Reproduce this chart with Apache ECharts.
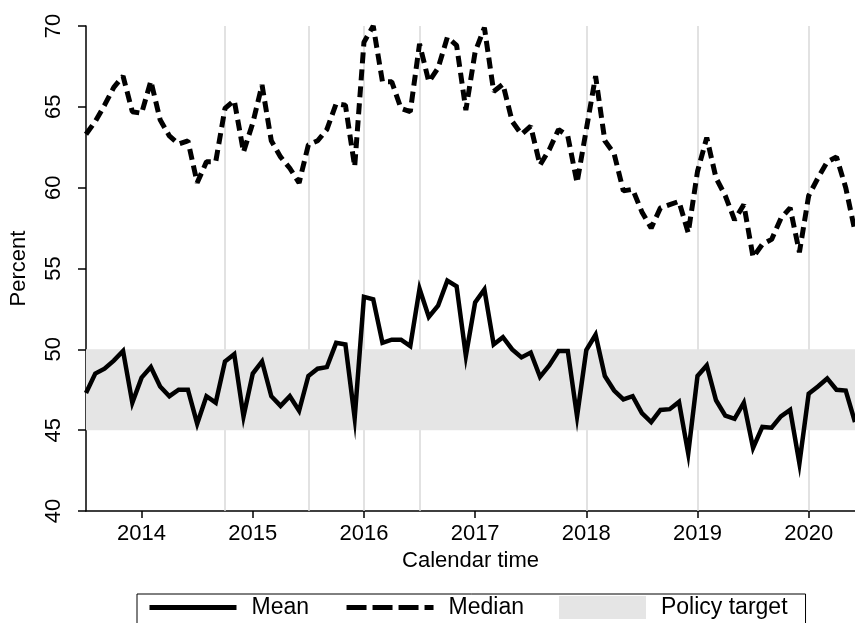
<!DOCTYPE html>
<html>
<head>
<meta charset="utf-8">
<script src="https://cdn.jsdelivr.net/npm/echarts@6/dist/echarts.min.js"></script>
<style>
html, body { margin: 0; padding: 0; background: #fff; }
#main { width: 855px; height: 623px; }
</style>
</head>
<body>
<div id="main"></div>
<script>
// monthly, 2013m7 .. 2020m6
var months = [
	'2013m7','2013m8','2013m9','2013m10','2013m11','2013m12',
	'2014m1','2014m2','2014m3','2014m4','2014m5','2014m6','2014m7','2014m8','2014m9','2014m10','2014m11','2014m12',
	'2015m1','2015m2','2015m3','2015m4','2015m5','2015m6','2015m7','2015m8','2015m9','2015m10','2015m11','2015m12',
	'2016m1','2016m2','2016m3','2016m4','2016m5','2016m6','2016m7','2016m8','2016m9','2016m10','2016m11','2016m12',
	'2017m1','2017m2','2017m3','2017m4','2017m5','2017m6','2017m7','2017m8','2017m9','2017m10','2017m11','2017m12',
	'2018m1','2018m2','2018m3','2018m4','2018m5','2018m6','2018m7','2018m8','2018m9','2018m10','2018m11','2018m12',
	'2019m1','2019m2','2019m3','2019m4','2019m5','2019m6','2019m7','2019m8','2019m9','2019m10','2019m11','2019m12',
	'2020m1','2020m2','2020m3','2020m4','2020m5','2020m6'
];
var meanVals = [
	47.3, 48.5, 48.8, 49.3, 49.9, 46.7, 48.25, 48.9, 47.7, 47.1, 47.5, 47.5,
	45.4, 47.1, 46.7, 49.25, 49.7, 45.85, 48.5, 49.25, 47.1, 46.5, 47.1, 46.2,
	48.35, 48.8, 48.9, 50.4, 50.3, 45.75, 53.25, 53.1, 50.4, 50.6, 50.6, 50.2,
	53.75, 52.0, 52.7, 54.25, 53.9, 49.6, 52.9, 53.7, 50.3, 50.75, 50.0, 49.5,
	49.8, 48.3, 49.0, 49.9, 49.9, 45.85, 49.95, 50.9, 48.35, 47.45, 46.9, 47.1,
	46.05, 45.5, 46.25, 46.3, 46.75, 43.55, 48.35, 49.0, 46.85, 45.9, 45.7, 46.7,
	43.9, 45.2, 45.15, 45.85, 46.25, 42.95, 47.25, 47.7, 48.2, 47.5, 47.45, 45.5
];
var medianVals = [
	63.3, 64.1, 65.1, 66.2, 66.9, 64.7, 64.6, 66.6, 64.2, 63.2, 62.7, 62.9,
	60.3, 61.6, 61.6, 64.9, 65.4, 62.2, 64.0, 66.35, 62.9, 61.9, 61.2, 60.3,
	62.65, 62.9, 63.6, 65.2, 65.1, 61.3, 69.0, 70.0, 66.55, 66.55, 64.9, 64.7,
	68.9, 66.55, 67.4, 69.3, 68.8, 64.8, 68.4, 69.9, 65.95, 66.4, 64.1, 63.3,
	63.8, 61.4, 62.35, 63.6, 63.2, 60.3, 63.6, 66.9, 62.9, 62.1, 59.8, 59.9,
	58.5, 57.5, 58.75, 58.95, 59.15, 57.2, 61.0, 63.1, 60.6, 59.5, 58.0, 58.95,
	55.7, 56.5, 56.8, 58.1, 58.75, 56.0, 59.5, 60.6, 61.6, 61.9, 60.0, 57.3
];
var targetBand = [45, 50];
var eventMonths = ['2014m10','2015m7','2016m1','2016m7','2018m1','2019m1','2020m1'];
var yTicks = [40, 45, 50, 55, 60, 65, 70];

var FONT = '"Liberation Sans", Arial, Helvetica, sans-serif';

function isJan(v){
	return /m1$/.test(v);
}

function drawChart(){
	var myChart = echarts.init(document.getElementById('main'), null, {renderer: 'canvas'});
	var option = {
		animation: false,
		backgroundColor: '#fff',
		textStyle: { fontFamily: FONT, color: '#000' },
		grid: { left: 84, right: 0, top: 26, bottom: 112, containLabel: false },
		legend: {
			left: 137,
			top: 594,
			padding: [2, 18, 12, 10],
			borderColor: '#000',
			borderWidth: 1,
			itemWidth: 87,
			itemHeight: 23,
			itemGap: 35,
			textStyle: { fontFamily: FONT, fontSize: 23, color: '#000', padding: [0, 0, 0, 10] },
			data: [
				// hide the marker circle, keep the line sample
				{ name: 'Mean', itemStyle: { opacity: 0 }, lineStyle: { color: '#000', width: 5, type: 'solid', opacity: 1 } },
				{ name: 'Median', itemStyle: { opacity: 0 }, lineStyle: { color: '#000', width: 5, type: [20, 6], opacity: 1 } },
				{ name: 'Policy target', icon: 'rect', itemStyle: { color: '#e5e5e5' } }
			]
		},
		xAxis: {
			type: 'category',
			data: months,
			boundaryGap: false,
			name: 'Calendar time',
			nameLocation: 'middle',
			nameGap: 37,
			nameTextStyle: { fontFamily: FONT, fontSize: 22, color: '#000' },
			axisLine: { lineStyle: { color: '#000', width: 1.5 } },
			axisTick: { interval: function(i, v){ return isJan(v); }, length: 7, lineStyle: { color: '#000', width: 1.5 } },
			axisLabel: {
				interval: function(i, v){ return isJan(v); },
				formatter: function(v){ return v.split('m')[0]; },
				margin: 12,
				fontFamily: FONT, fontSize: 22, color: '#000'
			},
			splitLine: { show: false }
		},
		yAxis: {
			type: 'value',
			min: yTicks[0],
			max: yTicks[yTicks.length - 1],
			interval: 5,
			name: 'Percent',
			nameLocation: 'middle',
			nameGap: 56,
			nameRotate: 90,
			nameTextStyle: { fontFamily: FONT, fontSize: 22, color: '#000' },
			axisLine: { show: true, lineStyle: { color: '#000', width: 1.5 } },
			axisTick: { show: true, length: 8, lineStyle: { color: '#000', width: 1.5 } },
			axisLabel: { rotate: 90, margin: 21, fontFamily: FONT, fontSize: 22, color: '#000' },
			splitLine: { show: false }
		},
		series: [
			{
				name: 'events',
				type: 'line',
				data: [],
				z: 1,
				silent: true,
				markLine: {
					silent: true,
					z: 1,
					symbol: 'none',
					label: { show: false },
					lineStyle: { color: '#d9d9d9', width: 1.5, type: 'solid' },
					data: eventMonths.map(function(m){ return { xAxis: m }; })
				}
			},
			{
				name: 'Policy target',
				type: 'line',
				data: [],
				z: 2,
				silent: true,
				itemStyle: { color: '#e5e5e5' },
				markArea: {
					silent: true,
					z: 2,
					itemStyle: { color: '#e5e5e5' },
					data: [[ { yAxis: targetBand[0] }, { yAxis: targetBand[1] } ]]
				}
			},
			{
				name: 'Mean',
				type: 'line',
				data: meanVals,
				z: 3,
				symbol: 'none',
				itemStyle: { color: '#000' },
				lineStyle: { color: '#000', width: 4.5, join: 'miter' }
			},
			{
				name: 'Median',
				type: 'line',
				data: medianVals,
				z: 3,
				symbol: 'none',
				itemStyle: { color: '#000' },
				lineStyle: { color: '#000', width: 5, type: [11, 6], cap: 'butt' }
			}
		]
	};
	myChart.setOption(option);
}
drawChart();
</script>
</body>
</html>
